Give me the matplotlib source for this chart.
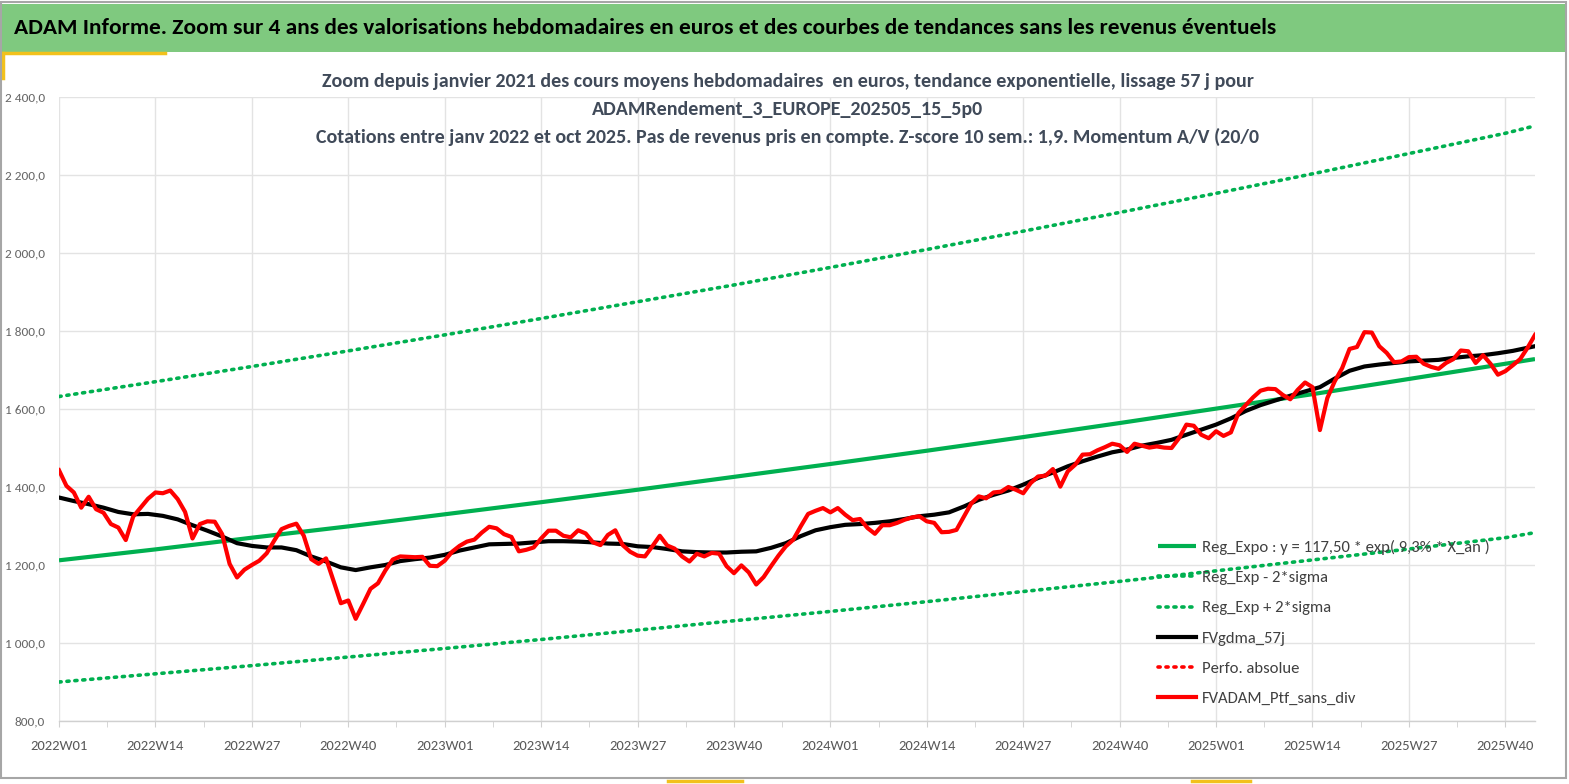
import matplotlib
matplotlib.use('Agg')
import matplotlib.pyplot as plt
from matplotlib import font_manager
from matplotlib.lines import Line2D
from matplotlib.ticker import FixedLocator, FuncFormatter

names = {f.name for f in font_manager.fontManager.ttflist}
FONT = next((n for n in ['Carlito', 'Liberation Sans Narrow', 'Open Sans Condensed', 'Liberation Sans']
             if n in names), 'DejaVu Sans')
plt.rcParams['font.family'] = [FONT, 'DejaVu Sans']

# ---------------- data ----------------
title = "ADAM Informe. Zoom sur 4 ans des valorisations hebdomadaires en euros et des courbes de tendances sans les revenus éventuels"
subtitle = ["Zoom depuis janvier 2021 des cours moyens hebdomadaires  en euros, tendance exponentielle, lissage 57 j pour",
            "ADAMRendement_3_EUROPE_202505_15_5p0",
            "Cotations entre janv 2022 et oct 2025. Pas de revenus pris en compte. Z-score 10 sem.: 1,9. Momentum A/V (20/0"]

tick_labels = ['2022W01', '2022W14', '2022W27', '2022W40',
               '2023W01', '2023W14', '2023W27', '2023W40',
               '2024W01', '2024W14', '2024W27', '2024W40',
               '2025W01', '2025W14', '2025W27', '2025W40']

# weekly portfolio value (FVADAM_Ptf_sans_div), 2022W01 .. 2025W44
ptf = [1443, 1403, 1386, 1347, 1375, 1343, 1334, 1305, 1296, 1264,
       1324, 1347, 1370, 1386, 1384, 1391, 1369, 1336, 1268, 1305,
       1312, 1311, 1279, 1203, 1168, 1188, 1200, 1211, 1230, 1262,
       1292, 1300, 1306, 1275, 1215, 1203, 1217, 1160, 1102, 1109,
       1062, 1100, 1139, 1153, 1186, 1214, 1222, 1221, 1220, 1221,
       1198, 1197, 1211, 1234, 1249, 1260, 1265, 1283, 1298, 1294,
       1279, 1272, 1235, 1239, 1245, 1268, 1288, 1288, 1275, 1271,
       1289, 1281, 1258, 1251, 1277, 1289, 1251, 1234, 1224, 1222,
       1248, 1275, 1250, 1242, 1222, 1209, 1229, 1222, 1231, 1229,
       1197, 1179, 1199, 1181, 1150, 1169, 1197, 1224, 1248, 1265,
       1299, 1331, 1339, 1346, 1335, 1346, 1329, 1315, 1318, 1295,
       1280, 1302, 1302, 1308, 1316, 1322, 1325, 1312, 1308, 1284,
       1285, 1290, 1324, 1358, 1376, 1371, 1386, 1388, 1400, 1393,
       1384, 1410, 1427, 1429, 1446, 1401, 1440, 1457, 1483, 1484,
       1494, 1502, 1511, 1507, 1490, 1511, 1506, 1501, 1504, 1501,
       1500, 1525, 1560, 1557, 1534, 1525, 1543, 1531, 1540, 1589,
       1610, 1630, 1647, 1652, 1651, 1636, 1625, 1649, 1668, 1656,
       1546, 1628, 1671, 1705, 1754, 1759, 1797, 1796, 1761, 1744,
       1720, 1722, 1733, 1734, 1716, 1708, 1703, 1718, 1728, 1750,
       1748, 1718, 1738, 1716, 1688, 1697, 1712, 1728, 1757, 1790]

# moving average FVgdma_57j, read every second week (+ last week)
gdma_weeks = list(range(0, 200, 2)) + [199]
gdma = [1373, 1364, 1356, 1347, 1336, 1330, 1331, 1326, 1317, 1302,
        1288, 1273, 1256, 1249, 1245, 1245, 1238, 1222, 1209, 1194,
        1187, 1194, 1200, 1210, 1215, 1219, 1226, 1237, 1245, 1253,
        1254, 1255, 1258, 1261, 1261, 1260, 1258, 1255, 1254, 1248,
        1246, 1241, 1235, 1233, 1232, 1232, 1234, 1235, 1244, 1256,
        1274, 1289, 1297, 1303, 1305, 1308, 1312, 1318, 1325, 1329,
        1335, 1350, 1367, 1380, 1391, 1406, 1423, 1437, 1453, 1466,
        1478, 1489, 1496, 1506, 1513, 1521, 1534, 1547, 1560, 1576,
        1595, 1610, 1622, 1634, 1645, 1656, 1678, 1698, 1709, 1714,
        1718, 1722, 1724, 1726, 1731, 1735, 1738, 1743, 1749, 1757,
        1761]

# regression lines, read at each labelled week (+ last week)
reg_weeks = [0, 13, 26, 39, 52, 65, 78, 91, 104, 117, 130, 143, 156, 169, 182, 195, 199]
reg_expo = [1212, 1240, 1270, 1299, 1330, 1361, 1393, 1426, 1459, 1493, 1528, 1564, 1601, 1638, 1677, 1716, 1728]
reg_minus = [900, 921, 942, 964, 986, 1009, 1033, 1057, 1081, 1106, 1132, 1158, 1185, 1213, 1241, 1270, 1283]
reg_plus = [1632, 1670, 1709, 1749, 1790, 1832, 1875, 1918, 1963, 2009, 2056, 2104, 2153, 2203, 2255, 2307, 2326]
perfo_abs = []  # series present in legend only

labels = ["Reg_Expo : y = 117,50 * exp( 9,3% * X_an )", "Reg_Exp - 2*sigma", "Reg_Exp + 2*sigma",
          "FVgdma_57j", "Perfo. absolue", "FVADAM_Ptf_sans_div"]

# ---------------- figure ----------------
W, H = 1569, 784
fig = plt.figure(figsize=(W / 100, H / 100), dpi=100)
renderer = fig.canvas.get_renderer()


def fx(px):
    return px / W


def fy(py):
    return 1 - py / H


def fit(t, width_px):
    w = t.get_window_extent(renderer=renderer).width
    t.set_fontsize(t.get_fontsize() * width_px / w)
    return t.get_fontsize()


# banner
fig.patches.append(plt.Rectangle((fx(0), fy(52)), fx(1565), 48 / H, transform=fig.transFigure,
                                 facecolor='#7FC97F', edgecolor='none', zorder=0))
tt = fig.text(fx(14), fy(28), title, fontsize=15.5, fontweight='bold', color='black', va='center', ha='left')
fit(tt, 1262)
# outer frame
fig.patches.append(plt.Rectangle((fx(1), fy(778)), fx(1565), 776 / H, transform=fig.transFigure,
                                 facecolor='none', edgecolor='#A6A6A6', lw=1.5, zorder=5))
# yellow accents
fig.add_artist(Line2D([fx(0), fx(165)], [fy(53), fy(53)], color='#F2C11C', lw=2.5))
fig.add_artist(Line2D([fx(3), fx(3)], [fy(53), fy(78)], color='#F2C11C', lw=2.5))
fig.add_artist(Line2D([fx(668), fx(742)], [fy(781), fy(781)], color='#F2C11C', lw=2.5))
fig.add_artist(Line2D([fx(1192), fx(1250)], [fy(781), fy(781)], color='#F2C11C', lw=2.5))

# subtitle (same size on the three lines, fitted on the first one)
sub_objs = []
for txt, y in zip(subtitle, [82, 110, 137]):
    sub_objs.append(fig.text(fx(788), fy(y), txt, fontsize=13, fontweight='bold', color='#404A59',
                             ha='center', va='center'))
fs_sub = fit(sub_objs[0], 929)
for st in sub_objs[1:]:
    st.set_fontsize(fs_sub)

ax = fig.add_axes([fx(59), fy(721), fx(1535 - 59), (721 - 97) / H])
ax.set_facecolor('none')

green = '#00B050'
l1, = ax.plot(reg_weeks, reg_expo, color=green, lw=3.0, solid_capstyle='butt', zorder=2)
l2, = ax.plot(reg_weeks, reg_minus, color=green, lw=2.6, linestyle=(0, (0.6, 1.6)),
              dash_capstyle='round', zorder=2)
l3, = ax.plot(reg_weeks, reg_plus, color=green, lw=2.6, linestyle=(0, (0.6, 1.6)),
              dash_capstyle='round', zorder=2)
l4, = ax.plot(gdma_weeks, gdma, color='black', lw=3.0, zorder=3)
l5, = ax.plot(range(len(perfo_abs)), perfo_abs, color='#FF0000', lw=2.6, linestyle=(0, (0.6, 1.6)),
              dash_capstyle='round')
l6, = ax.plot(range(len(ptf)), ptf, color='#FF0000', lw=3.0, zorder=4)

ax.set_xlim(0, len(ptf) - 1)
ax.set_ylim(800, 2400)
ax.set_yticks(range(800, 2401, 200))
ax.yaxis.set_major_formatter(FuncFormatter(lambda v, p: f"{v:,.1f}".replace(',', ' ').replace('.', ',')))
major = [13 * i for i in range(len(tick_labels))]
ax.set_xticks(major)
ax.set_xticklabels(tick_labels)
ax.xaxis.set_minor_locator(FixedLocator([13 * i + 6.5 for i in range(len(tick_labels))]))

ax.grid(True, which='major', color='#E3E3E3', lw=1.0, zorder=0)
for s in ['top', 'right', 'left']:
    ax.spines[s].set_visible(False)
ax.spines['bottom'].set_color('#D0D0D0')
ax.spines['bottom'].set_linewidth(1.0)
ax.tick_params(axis='y', length=0, labelsize=9.5, labelcolor='#666666', pad=10)
ax.tick_params(axis='x', which='major', length=4, color='#D0D0D0', labelsize=10.5,
               labelcolor='#595959', pad=10)
ax.tick_params(axis='x', which='minor', length=4, color='#D0D0D0')

leg = fig.legend([l1, l2, l3, l4, l5, l6], labels, loc='upper left',
                 bbox_to_anchor=(fx(1158), fy(540)), frameon=False, fontsize=12,
                 handlelength=2.3, handletextpad=0.35, labelspacing=0.93, labelcolor='#404040',
                 borderaxespad=0, borderpad=0)

fig.savefig('out.png', dpi=100)
